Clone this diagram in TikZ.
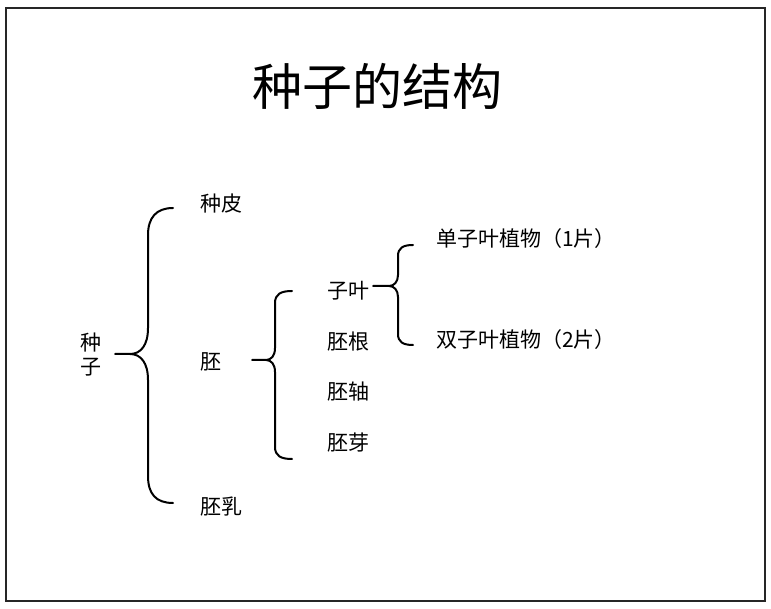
\documentclass[tikz,border=0pt]{standalone}
\usepackage{fontspec}
\setmainfont{Noto Sans CJK SC}
\begin{document}
\begin{tikzpicture}[x=1pt,y=-1pt,
  lbl/.style={inner sep=0pt,anchor=west,font=\fontsize{21}{25}\selectfont},
  brace/.style={line width=2pt,line cap=round,line join=round}]
\useasboundingbox (0,0) rectangle (771,609);
\fill[white] (0,0) rectangle (771,609);
\draw[line width=2.2pt,black!85] (6,8) rectangle (765,601);
\node[inner sep=0pt,font=\fontsize{50}{56}\selectfont] (title) at (377,86) {种子的结构};
% level 1
\node[inner sep=0pt,align=center,font=\fontsize{21}{25}\selectfont] (zz) at (91,355) {种\\[-1pt]子};
\node[lbl] (zp) at (200,204) {种皮};
\node[lbl] (p) at (200,362) {胚};
\node[lbl] (pr) at (200,507) {胚乳};
% level 2
\node[lbl] (zy) at (327,291) {子叶};
\node[lbl] (pg) at (327,342) {胚根};
\node[lbl] (pz) at (327,392) {胚轴};
\node[lbl] (py) at (327,443) {胚芽};
% level 3
\node[lbl] (dz) at (436,239) {单子叶植物（1片）};
\node[lbl] (sz) at (436,340) {双子叶植物（2片）};
% brace 1
\coordinate (b1s) at (115,354);
\coordinate (b1m) at (130,354);
\coordinate (b1t) at (173,208);
\coordinate (b1b) at (173,503);
\draw[brace] (b1t) .. controls (156,208) and (148,218) .. (148,235) -- (148,328)
  .. controls (148,345) and (141,354) .. (b1m) -- (b1s);
\draw[brace] (b1m) .. controls (141,354) and (148,363) .. (148,380) -- (148,476)
  .. controls (148,494) and (156,503) .. (b1b);
% brace 2
\coordinate (b2s) at (252,360);
\coordinate (b2m) at (266,360);
\coordinate (b2t) at (292,291);
\coordinate (b2b) at (292,459);
\draw[brace] (b2t) .. controls (281,291) and (275,294) .. (275,303) -- (275,348)
  .. controls (275,356) and (271,360) .. (b2m) -- (b2s);
\draw[brace] (b2m) .. controls (271,360) and (275,364) .. (275,372) -- (275,447)
  .. controls (275,456) and (281,459) .. (b2b);
% brace 3
\coordinate (b3s) at (373,286);
\coordinate (b3m) at (389,286);
\coordinate (b3t) at (413,245);
\coordinate (b3b) at (413,345);
\draw[brace] (b3t) .. controls (403,245) and (398,248) .. (398,256) -- (398,275)
  .. controls (398,282) and (394,286) .. (b3m) -- (b3s);
\draw[brace] (b3m) .. controls (394,286) and (398,290) .. (398,297) -- (398,334)
  .. controls (398,342) and (403,345) .. (b3b);
\end{tikzpicture}
\end{document}
